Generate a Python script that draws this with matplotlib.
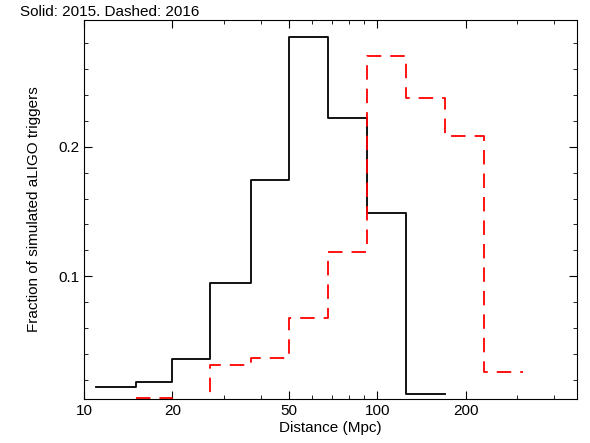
import matplotlib.pyplot as plt
import numpy as np
from matplotlib.ticker import FixedLocator, NullFormatter

plt.rcParams['font.family'] = ['Liberation Sans', 'DejaVu Sans']

edges = [11, 15, 20, 27, 37, 50, 68, 92, 125, 170, 232, 315]
frac_2015 = [0.014, 0.018, 0.036, 0.095, 0.174, 0.285, 0.222, 0.149, 0.009, 0.0, 0.0]
frac_2016 = [0.0, 0.0054, 0.0, 0.031, 0.037, 0.068, 0.119, 0.270, 0.238, 0.208, 0.026]


def step_xy(e, v):
    x = np.repeat(e, 2)[1:-1]
    y = np.repeat(v, 2)
    return x, y


fig = plt.figure(figsize=(5.9, 4.43), dpi=100)
ax = fig.add_axes([84 / 590, 44 / 443, 493 / 590, 379 / 443])

x, y = step_xy(edges[:10], frac_2015[:9])
ax.plot(x, y, color='black', lw=1.3)
x, y = step_xy(edges[1:], frac_2016[1:])
ax.plot(x, y, color='red', lw=1.3, dashes=(8, 5))

ax.set_xscale('log')
ax.set_xlim(10, 480)
ax.set_ylim(0.005, 0.298)
ax.xaxis.set_major_locator(FixedLocator([10, 20, 50, 100, 200]))
ax.set_xticklabels(['10', '20', '50', '100', '200'])
ax.xaxis.set_minor_locator(FixedLocator([30, 40, 60, 70, 80, 90, 300, 400]))
ax.xaxis.set_minor_formatter(NullFormatter())
ax.set_yticks([0.1, 0.2])
ax.set_yticklabels(['0.1', '0.2'])
ax.yaxis.set_minor_locator(FixedLocator(np.arange(0.02, 0.3, 0.02)))
ax.tick_params(which='both', direction='in', top=True, right=True, labelsize=11)
ax.tick_params(which='major', length=6)
ax.tick_params(which='minor', length=3)
ax.set_xlabel('Distance (Mpc)', fontsize=11, labelpad=2)
ax.set_ylabel('Fraction of simulated aLIGO triggers', fontsize=11, labelpad=12)
fig.text(20 / 590, 1 - 12 / 443, 'Solid: 2015. Dashed: 2016', fontsize=11,
         ha='left', va='center')

fig.savefig('out.png', dpi=100)
